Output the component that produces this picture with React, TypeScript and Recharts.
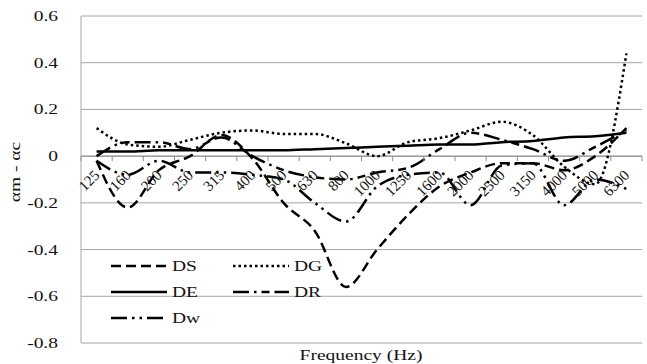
import { LineChart, Line, XAxis, YAxis, CartesianGrid, ReferenceLine } from 'recharts'

const frequencies = ['125', '160', '200', '250', '315', '400', '500', '630', '800', '1000', '1250', '1600', '2000', '2500', '3150', '4000', '5000', '6300']
const dsValues = [-0.02, -0.22, -0.06, 0.0, 0.09, -0.01, -0.2, -0.32, -0.56, -0.4, -0.25, -0.13, -0.07, -0.03, -0.03, -0.06, 0.0, 0.12]
const dgValues = [0.12, 0.05, 0.04, 0.07, 0.1, 0.11, 0.095, 0.095, 0.055, 0.0, 0.06, 0.077, 0.11, 0.147, 0.09, -0.045, -0.12, 0.44]
const deValues = [0.02, 0.02, 0.025, 0.025, 0.025, 0.025, 0.025, 0.03, 0.035, 0.04, 0.045, 0.05, 0.05, 0.06, 0.065, 0.08, 0.085, 0.1]
const drValues = [0.0, 0.06, 0.06, 0.03, 0.08, 0.0, -0.06, -0.09, -0.1, -0.07, -0.05, 0.03, 0.1, 0.07, 0.03, -0.02, 0.04, 0.11]
const dwValues = [-0.02, -0.08, -0.02, -0.07, -0.07, -0.08, -0.1, -0.2, -0.28, -0.13, -0.08, -0.07, -0.21, -0.04, -0.03, -0.21, -0.1, -0.14]
const yTicks = [-0.8, -0.6, -0.4, -0.2, 0, 0.2, 0.4, 0.6]

const data = frequencies.map((f, i) => ({
  freq: f,
  DS: dsValues[i],
  DG: dgValues[i],
  DE: deValues[i],
  DR: drValues[i],
  Dw: dwValues[i],
}))

const W = 647
const H = 364
const X_AXIS_H = 20
const MARGIN = { top: 16, right: 5, bottom: 21 - X_AXIS_H, left: 0 }
const Y_AXIS_W = 81
const Y_MIN = -0.8
const Y_MAX = 0.6
const PLOT_H = H - MARGIN.top - MARGIN.bottom - X_AXIS_H
const ZERO_FROM_BOTTOM = (PLOT_H * (0 - Y_MIN)) / (Y_MAX - Y_MIN)
const BAND = (W - Y_AXIS_W - MARGIN.right) / frequencies.length
const FONT = "'Liberation Serif', Tinos, 'Times New Roman', 'DejaVu Serif', serif"
// the source picture is stretched sideways, so its text is wider than normal
const STRETCH = 1.3

const STYLES: Record<string, { dash?: string; width: number }> = {
  DS: { dash: '10 5', width: 2.5 },
  DG: { dash: '2.5 3', width: 2.5 },
  DE: { width: 2.5 },
  DR: { dash: '16 5 2.5 5 8 5', width: 2.5 },
  Dw: { dash: '16 5 2.5 5 2.5 5', width: 2.5 },
}

function FreqTick(props: any) {
  const { x, y, payload, index } = props
  const zy = y - ZERO_FROM_BOTTOM
  const half = BAND / 2
  const tx = x + 4
  const ty = zy + 20
  return (
    <g>
      <line x1={x - half} x2={x - half} y1={zy} y2={zy + 5} stroke="#8c8c8c" />
      {index === frequencies.length - 1 && (
        <line x1={x + half} x2={x + half} y1={zy} y2={zy + 5} stroke="#8c8c8c" />
      )}
      <text
        x={tx}
        y={ty}
        textAnchor="end"
        transform={`rotate(-45 ${tx} ${ty})`}
        style={{ fontFamily: FONT, fontSize: 15 }}
        fill="#111"
      >
        {payload.value}
      </text>
    </g>
  )
}

function ValueTick(props: any) {
  const { x, y, payload } = props
  const label = payload.value === 0 ? '0' : Number(payload.value).toFixed(1)
  return (
    <text
      x={x}
      y={y}
      dy={5}
      textAnchor="end"
      transform={`translate(${x} ${y}) scale(${STRETCH} 1) translate(${-x} ${-y})`}
      style={{ fontFamily: FONT, fontSize: 15 }}
      fill="#111"
    >
      {label}
    </text>
  )
}

function LegendItem({ name, left, top }: { name: string; left: number; top: number }) {
  const s = STYLES[name]
  return (
    <div style={{ position: 'absolute', left, top, display: 'flex', alignItems: 'center', height: 20 }}>
      <svg width={56} height={6}>
        <line x1={0} x2={56} y1={3} y2={3} stroke="#000" strokeWidth={s.width} strokeDasharray={s.dash} />
      </svg>
      <span
        style={{
          marginLeft: 5,
          fontFamily: FONT,
          fontSize: 15,
          color: '#111',
          display: 'inline-block',
          transform: `scaleX(${STRETCH})`,
          transformOrigin: 'left center',
        }}
      >
        {name}
      </span>
    </div>
  )
}

export default function App() {
  return (
    <div style={{ position: 'absolute', left: 0, top: 0, width: W, height: H, background: '#fff', fontFamily: FONT }}>
      <LineChart width={W} height={H} data={data} margin={MARGIN}>
        <CartesianGrid vertical={false} stroke="#a6a6a6" />
        <XAxis
          dataKey="freq"
          height={X_AXIS_H}
          interval={0}
          padding={{ left: BAND / 2, right: BAND / 2 }}
          axisLine={false}
          tickLine={false}
          tickSize={0}
          tickMargin={0}
          tick={(p: any) => <FreqTick {...p} />}
        />
        <YAxis
          width={Y_AXIS_W}
          domain={[Y_MIN, Y_MAX]}
          ticks={yTicks}
          axisLine={{ stroke: '#a6a6a6' }}
          tickLine={false}
          tickMargin={17}
          tick={(p: any) => <ValueTick {...p} />}
        />
        <ReferenceLine y={0} stroke="#8c8c8c" />
        {Object.keys(STYLES).map((key) => (
          <Line
            key={key}
            type="monotone"
            dataKey={key}
            stroke="#000"
            strokeWidth={STYLES[key].width}
            strokeDasharray={STYLES[key].dash}
            dot={false}
            isAnimationActive={false}
          />
        ))}
      </LineChart>
      <LegendItem name="DS" left={111} top={256} />
      <LegendItem name="DG" left={233} top={256} />
      <LegendItem name="DE" left={111} top={282} />
      <LegendItem name="DR" left={233} top={282} />
      <LegendItem name="Dw" left={111} top={308} />
      <div
        style={{
          position: 'absolute',
          left: 15,
          top: 172,
          transform: `translate(-50%, -50%) rotate(-90deg) scaleX(${STRETCH})`,
          fontFamily: FONT,
          fontSize: 15,
          whiteSpace: 'nowrap',
          color: '#111',
        }}
      >
        αm - αc
      </div>
      <div
        style={{
          position: 'absolute',
          left: 361,
          top: 355,
          transform: `translate(-50%, -50%) scaleX(${STRETCH})`,
          fontFamily: FONT,
          fontSize: 15,
          whiteSpace: 'nowrap',
          color: '#111',
        }}
      >
        Frequency (Hz)
      </div>
    </div>
  )
}
